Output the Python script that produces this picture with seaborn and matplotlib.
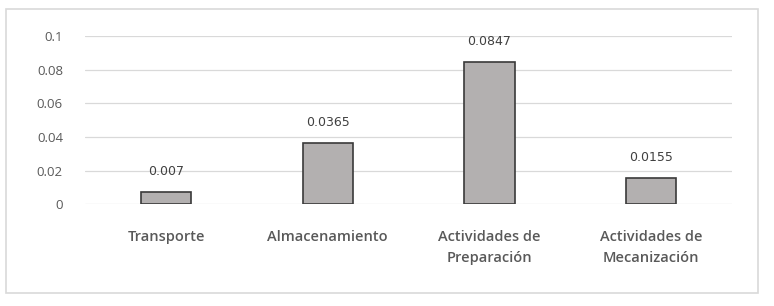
import matplotlib
matplotlib.use('Agg')
import matplotlib.pyplot as plt
import seaborn as sns
import pandas as pd
from matplotlib.patches import Rectangle

# datos
categorias = ['Transporte', 'Almacenamiento', 'Actividades de\nPreparación', 'Actividades de\nMecanización']
valores = [0.007, 0.0365, 0.0847, 0.0155]
etiquetas = ['0.007', '0.0365', '0.0847', '0.0155']
yticks = [0, 0.02, 0.04, 0.06, 0.08, 0.1]
ytick_labels = ['0', '0.02', '0.04', '0.06', '0.08', '0.1']

sns.set_style('white')
plt.rcParams['font.family'] = ['Open Sans', 'DejaVu Sans']

df = pd.DataFrame({'categoria': categorias, 'valor': valores})

fig = plt.figure(figsize=(7.74, 3.06), dpi=100)
ax = fig.add_axes([0.110, 0.333, 0.836, 0.549])

sns.barplot(data=df, x='categoria', y='valor', color='#b3b0b0', width=0.31,
            edgecolor='#3a3a3a', linewidth=1.2, ax=ax, zorder=3)

ax.set_ylim(0, 0.1)
ax.set_yticks(yticks)
ax.set_yticklabels(ytick_labels, color='#595959', fontsize=9.5)
ax.yaxis.grid(True, color='#d9d9d9', linewidth=0.9, zorder=0)
ax.tick_params(axis='y', length=0, pad=16)
ax.tick_params(axis='x', length=0, pad=19)
for lbl in ax.get_xticklabels():
    lbl.set_color('#595959')
    lbl.set_fontsize(10.5)
    lbl.set_fontweight('semibold')
    lbl.set_linespacing(1.6)
ax.set_xlabel('')
ax.set_ylabel('')
for s in ax.spines.values():
    s.set_visible(False)
ax.set_xlim(-0.5, len(categorias) - 0.5)

# etiquetas de datos
for p, t in zip(ax.patches, etiquetas):
    ax.annotate(t, (p.get_x() + p.get_width() / 2., p.get_height()),
                ha='center', va='bottom', fontsize=9, color='#404040',
                family='DejaVu Sans', xytext=(0, 10), textcoords='offset points')

# borde exterior
fig.patches.append(Rectangle((6 / 774, 1 - 293 / 306), 752 / 774, 284 / 306,
                             transform=fig.transFigure, fill=False,
                             edgecolor='#d9d9d9', linewidth=1.2))

fig.savefig('out.png', dpi=100)
